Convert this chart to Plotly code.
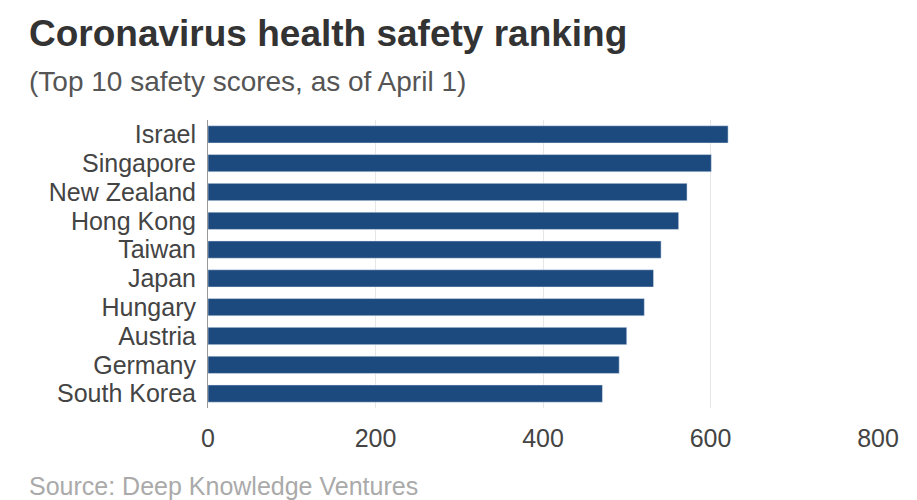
import plotly.graph_objects as go

countries = ["Israel", "Singapore", "New Zealand", "Hong Kong", "Taiwan", "Japan", "Hungary", "Austria", "Germany", "South Korea"]
scores = [621, 601, 572, 562, 541, 532, 521, 500, 491, 471]
tick_vals = [0, 200, 400, 600, 800]

fig = go.Figure(go.Bar(
    x=scores, y=countries, orientation="h",
    marker=dict(color="#1d4a7e"),
))
fig.update_layout(
    width=917, height=500,
    margin=dict(l=200, r=47, t=112, b=100, autoexpand=False),
    paper_bgcolor="white", plot_bgcolor="white",
    font=dict(family="Liberation Sans, Arial", color="#444"),
    showlegend=False,
    bargap=0.4,
)
fig.update_xaxes(range=[0, 800], tickvals=tick_vals, showgrid=True, gridcolor="#e6e6e6",
                 zeroline=False, tickfont=dict(size=25, color="#444"), ticks="outside",
                 ticklen=8, tickcolor="rgba(0,0,0,0)", automargin=False)
fig.update_yaxes(autorange="reversed", tickmode="array", tickvals=countries, ticktext=countries,
                 tickfont=dict(size=25, color="#444"), ticks="outside",
                 ticklen=6, tickcolor="rgba(0,0,0,0)", showline=True, linecolor="#999", automargin=False)
fig.add_annotation(text="<b>Coronavirus health safety ranking</b>", xref="paper", yref="paper",
                   x=-0.27, y=1.30, xanchor="left", yanchor="middle", showarrow=False,
                   font=dict(size=37, color="#333"))
fig.add_annotation(text="(Top 10 safety scores, as of April 1)", xref="paper", yref="paper",
                   x=-0.27, y=1.135, xanchor="left", yanchor="middle", showarrow=False,
                   font=dict(size=28, color="#555"))
fig.add_annotation(text="Source: Deep Knowledge Ventures", xref="paper", yref="paper",
                   x=-0.27, y=-0.27, xanchor="left", yanchor="middle", showarrow=False,
                   font=dict(size=25, color="#aaa"))
fig.write_html("out.html")
